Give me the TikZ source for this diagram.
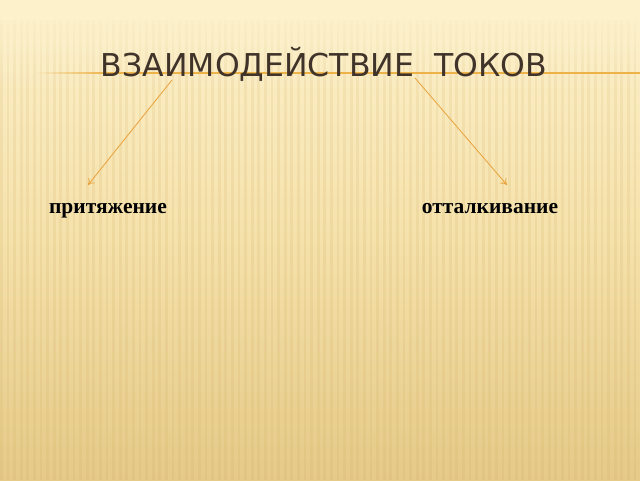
\documentclass[tikz,border=0pt]{standalone}
\usepackage{fontspec}
\usetikzlibrary{arrows.meta,fadings}
\setmainfont{Liberation Serif}
\newfontfamily\titlefont{DejaVu Sans}
\newfontfamily\labelfont{Liberation Serif}
\definecolor{bgtop}{HTML}{FDF1CC}
\definecolor{bgmid}{HTML}{F5E1AA}
\definecolor{bgbot}{HTML}{E5CA88}
\definecolor{stripe}{HTML}{C9A55A}
\definecolor{titlecol}{HTML}{40342A}
\definecolor{arrowcol}{HTML}{E9A23A}
\definecolor{rulecol}{HTML}{EDB248}
\tikzset{
  conn/.style={draw=arrowcol, line width=0.8pt, -{To[length=6pt,width=8pt]}},
  lbl/.style={font=\labelfont\bfseries\fontsize{21.5}{24}\selectfont, text=black, inner sep=0pt, anchor=base},
  ttl/.style={font=\titlefont\fontsize{31.5}{34}\selectfont, text=titlecol, inner sep=0pt, anchor=base}
}
\begin{document}
\begin{tikzpicture}[x=1pt,y=-1pt]
\useasboundingbox (0,0) rectangle (640,480);
% background
\shade[top color=bgtop, bottom color=bgbot, middle color=bgmid] (0,0) rectangle (640,480);
\foreach \i in {0,...,100} {
  \fill[stripe, opacity=0.14] ({\i*6.6},20) -- ({\i*6.6+2.7},20) -- ({\i*6.6+2.7},480) -- ({\i*6.6},480) -- cycle;
}
\fill[bgtop, path fading=south] (0,0) rectangle (640,90);
\fill[bgtop] (0,0) rectangle (640,20);
% horizontal rule
\fill[rulecol, path fading=west] (35,72.4) rectangle (110,74.0);
\fill[rulecol] (109,72.4) rectangle (640,74.0);
% title
\node[ttl] (title) at (324,76) {ВЗАИМОДЕЙСТВИЕ\ \ ТОКОВ};
% labels
\node[lbl] (attr) at (108,213) {притяжение};
\node[lbl] (rep) at (490,213) {отталкивание};
% arrows
\coordinate (a1s) at (172,80);
\coordinate (a1e) at (88,185);
\coordinate (a2s) at (415,78);
\coordinate (a2e) at (507,185);
\draw[conn] (a1s) -- (a1e);
\draw[conn] (a2s) -- (a2e);
\end{tikzpicture}
\end{document}
